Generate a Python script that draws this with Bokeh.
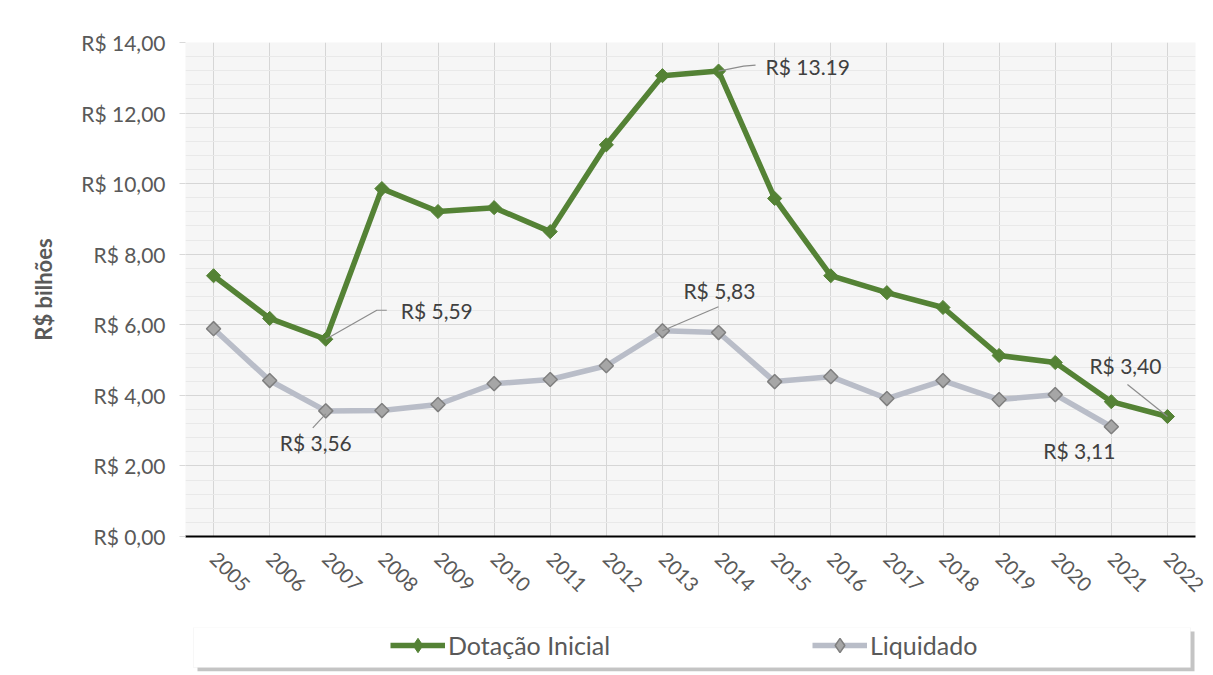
import numpy as np
from bokeh.plotting import figure
from bokeh.layouts import column
from bokeh.models import (Range1d, FixedTicker, SingleIntervalTicker, CustomJSTickFormatter,
                          Label, Legend, LegendItem, BoxAnnotation)
from bokeh.embed import file_html
from bokeh.resources import INLINE

# ---------------- data ----------------
years = [2005, 2006, 2007, 2008, 2009, 2010, 2011, 2012, 2013,
         2014, 2015, 2016, 2017, 2018, 2019, 2020, 2021, 2022]
dotacao = [7.39, 6.18, 5.59, 9.86, 9.21, 9.32, 8.64, 11.10, 13.06,
           13.19, 9.58, 7.39, 6.91, 6.49, 5.13, 4.93, 3.82, 3.40]
liq_years = years[:-1]
liquidado = [5.89, 4.42, 3.56, 3.57, 3.74, 4.33, 4.45, 4.84, 5.83,
             5.78, 4.39, 4.53, 3.91, 4.42, 3.88, 4.02, 3.11]
series_names = ["Dotação Inicial", "Liquidado"]
y_label = "R$ bilhões"

FONT = "Lato"
GREEN = "#548235"
GREY_LINE = "#b9bdc8"
GREY_FILL = "#a6a6a6"
GREY_EDGE = "#7f7f7f"
TXT = "#595959"

W, H1, H2 = 1213, 610, 65
FL, FR, FT, FB = 185, 18, 42, 74
FW, FH = W - FL - FR, H1 - FT - FB

p = figure(width=W, height=H1, output_backend="svg", toolbar_location=None,
           x_range=Range1d(years[0] - 0.5, years[-1] + 0.5), y_range=Range1d(0, 14),
           min_border_left=FL, min_border_right=FR, min_border_top=FT, min_border_bottom=FB,
           frame_width=FW, frame_height=FH)
p.background_fill_color = "#f6f6f6"
p.border_fill_color = "white"
p.outline_line_color = None

# axes
p.xaxis.ticker = FixedTicker(ticks=years)
p.xaxis.major_label_orientation = -np.pi / 4
p.xaxis.major_label_text_font = FONT
p.xaxis.major_label_text_font_size = "20px"
p.xaxis.major_label_text_color = TXT
p.xaxis.major_label_standoff = 13
p.xaxis.axis_line_color = "black"
p.xaxis.axis_line_width = 2
p.xaxis.major_tick_line_color = None
p.xaxis.minor_tick_line_color = None

p.yaxis.ticker = SingleIntervalTicker(interval=2, num_minor_ticks=5)
p.yaxis.formatter = CustomJSTickFormatter(code="return 'R$ ' + tick.toFixed(2).replace('.', ',');")
p.yaxis.major_label_text_font = FONT
p.yaxis.major_label_text_font_size = "21px"
p.yaxis.major_label_text_color = TXT
p.yaxis.axis_line_color = None
p.yaxis.major_tick_line_color = "#d9d9d9"
p.yaxis.major_tick_out = 6
p.yaxis.major_tick_in = 0
p.yaxis.minor_tick_line_color = None
p.yaxis.major_label_standoff = 14
p.yaxis.axis_label = y_label
p.yaxis.axis_label_text_font = FONT
p.yaxis.axis_label_text_font_style = "bold"
p.yaxis.axis_label_text_font_size = "22px"
p.yaxis.axis_label_text_color = TXT
p.yaxis.axis_label_standoff = 21

p.xgrid.ticker = FixedTicker(ticks=years)
p.xgrid.grid_line_color = "#d6d6d6"
p.ygrid.grid_line_color = "#d6d6d6"
p.ygrid.minor_grid_line_color = "#e9e9e9"

# series
p.line(years, dotacao, line_color=GREEN, line_width=5.5, line_join="round")
p.scatter(years, dotacao, marker="square", angle=np.pi / 4, size=10,
          fill_color=GREEN, line_color=GREEN)
p.line(liq_years, liquidado, line_color=GREY_LINE, line_width=5.5, line_join="round")
p.scatter(liq_years, liquidado, marker="square", angle=np.pi / 4, size=10,
          fill_color=GREY_FILL, line_color=GREY_EDGE, line_width=1.5)

# annotations: (year, value, text, text dx px, text dy px (down +), align, leader path px)
PXX = FW / (len(years))
PXY = FH / 14.0
notes = [
    (2014, dotacao[years.index(2014)], "R$ 13.19", 47, -5, "left", [(0, 0), (25, -5), (37, -6)]),
    (2007, dotacao[years.index(2007)], "R$ 5,59", 75, -29, "left", [(0, 0), (51, -29), (61, -29)]),
    (2007, liquidado[liq_years.index(2007)], "R$ 3,56", -10, 32, "center", [(0, 3), (-13, 17)]),
    (2013, liquidado[liq_years.index(2013)], "R$ 5,83", 21, -40, "left", [(0, 0), (56, -24)]),
    (2022, dotacao[years.index(2022)], "R$ 3,40", -78, -51, "left", [(0, 0), (-40, -32)]),
    (2021, liquidado[liq_years.index(2021)], "R$ 3,11", -68, 24, "left", []),
]
xs, ys = [], []
for (yr, v, t, dx, dy, al, path) in notes:
    p.add_layout(Label(x=yr, y=v, x_offset=dx, y_offset=-dy, text=t,
                       text_font=FONT, text_font_size="21px", text_color="#404040",
                       text_align=al, text_baseline="middle"))
    if path:
        xs.append([yr + a / PXX for a, b in path])
        ys.append([v - b / PXY for a, b in path])
p.multi_line(xs, ys, line_color="#8c8c8c", line_width=1.2)

# ---------------- legend strip (frame aligned with main plot, pixel-unit ranges) ----------------
BX0, BW, BH, SH = 8, 997, 40, 4      # box starts 8 px right of frame left (x=193)
QT = 17
q = figure(width=W, height=H2, output_backend="svg", toolbar_location=None,
           x_range=Range1d(0, FW), y_range=Range1d(0, BH + SH),
           x_axis_type=None, y_axis_type=None,
           min_border_left=FL, min_border_right=FR,
           min_border_top=QT, min_border_bottom=H2 - QT - BH - SH,
           frame_width=FW, frame_height=BH + SH)
q.background_fill_color = "white"
q.border_fill_color = "white"
q.outline_line_color = None
q.grid.visible = False
q.add_layout(BoxAnnotation(left=BX0 + SH, right=BX0 + BW + SH, bottom=0, top=BH,
                           fill_color="#8a8a8a", fill_alpha=0.5, line_color=None))
q.add_layout(BoxAnnotation(left=BX0, right=BX0 + BW, bottom=SH, top=BH + SH,
                           fill_color="white", fill_alpha=1, line_color="#e3e3e3"))
# legend proxies: same series, lying outside this strip's pixel ranges (not visible here)
ql1 = q.line(years, dotacao, line_color=GREEN, line_width=5.5)
qm1 = q.scatter(years, dotacao, marker="diamond", size=17,
                fill_color=GREEN, line_color=GREEN)
ql2 = q.line(liq_years, liquidado, line_color=GREY_LINE, line_width=5.5)
qm2 = q.scatter(liq_years, liquidado, marker="diamond", size=17,
                fill_color=GREY_FILL, line_color=GREY_EDGE, line_width=1.5)
legend = Legend(items=[LegendItem(label=series_names[0], renderers=[ql1, qm1]),
                       LegendItem(label=series_names[1], renderers=[ql2, qm2])],
                orientation="horizontal", location=(390 - FL, 8),
                label_text_font=FONT, label_text_font_size="25px", label_text_color=TXT,
                glyph_width=55, glyph_height=36, label_height=36, label_width=174,
                label_standoff=3, spacing=190, padding=0, margin=0,
                border_line_color=None, background_fill_alpha=0)
q.add_layout(legend, "center")

layout = column(p, q, spacing=0)
open("out.html", "w").write(file_html(layout, INLINE))
